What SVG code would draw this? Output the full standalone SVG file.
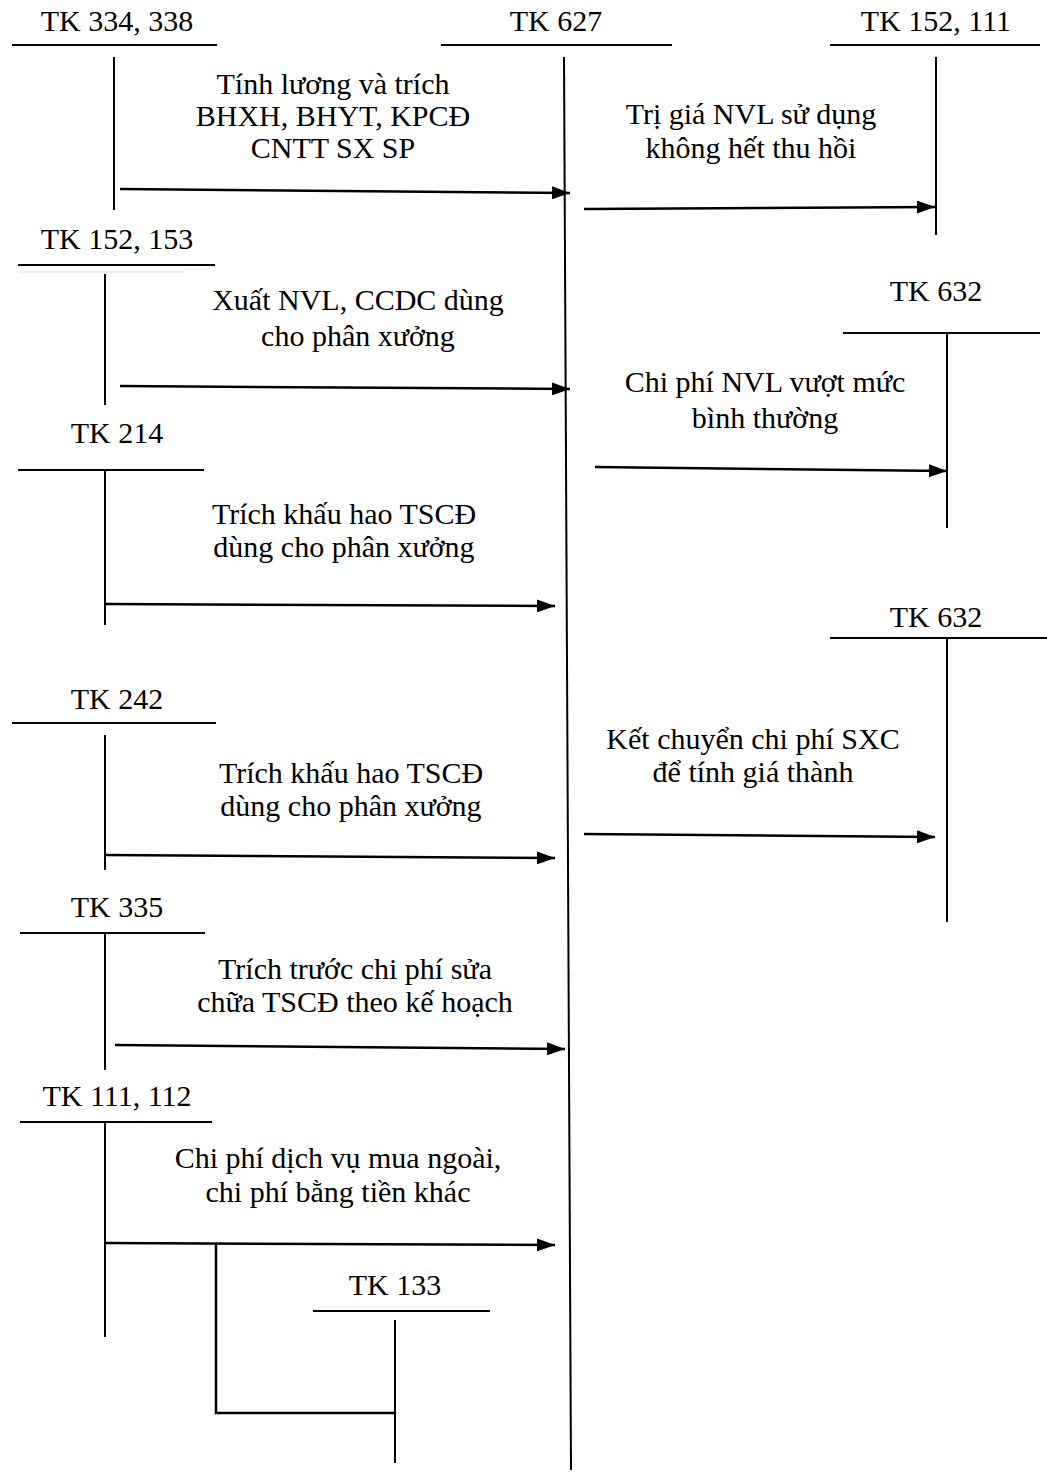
<svg xmlns="http://www.w3.org/2000/svg" width="1047" height="1473" viewBox="0 0 1047 1473">
<style>
text{font-family:"Liberation Serif","Times New Roman",serif;font-size:30px;fill:#000;text-anchor:middle}
line{stroke:#000;stroke-width:2}
.c{stroke:#000;stroke-width:2.5;fill:none}
</style>
<defs>
<marker id="a" viewBox="0 0 18 13" refX="18" refY="6.5" markerWidth="18" markerHeight="13" markerUnits="userSpaceOnUse" orient="auto"><path d="M0,0 L18,6.5 L0,13 Z" fill="#000"/></marker>
</defs>
<rect width="1047" height="1473" fill="#fff"/>
<g id="tk334"><text x="117" y="31">TK 334, 338</text><line x1="12" y1="45" x2="217" y2="45"/><line x1="114" y1="57" x2="114" y2="210"/></g>
<g id="tk627"><text x="556" y="31">TK 627</text><line x1="441" y1="45" x2="672" y2="45"/><line x1="564" y1="57" x2="571" y2="1470"/></g>
<g id="tk152_111"><text x="936" y="31">TK 152, 111</text><line x1="830" y1="45" x2="1040" y2="45"/><line x1="936" y1="57" x2="936" y2="235"/></g>
<g id="tk152_153"><text x="117" y="249">TK 152, 153</text><line x1="18" y1="265" x2="215" y2="265"/><line x1="18" y1="272" x2="185" y2="272" style="stroke:#ddd;stroke-width:1"/><line x1="105" y1="274" x2="105" y2="405"/></g>
<g id="tk632a"><text x="936" y="301">TK 632</text><line x1="843" y1="333" x2="1040" y2="333"/><line x1="947" y1="333" x2="947" y2="528"/></g>
<g id="tk214"><text x="117" y="443">TK 214</text><line x1="18" y1="470" x2="204" y2="470"/><line x1="105" y1="470" x2="105" y2="625"/></g>
<g id="tk632b"><text x="936" y="627">TK 632</text><line x1="830" y1="638" x2="1047" y2="638"/><line x1="947" y1="638" x2="947" y2="922"/></g>
<g id="tk242"><text x="117" y="709">TK 242</text><line x1="12" y1="723" x2="216" y2="723"/><line x1="105" y1="735" x2="105" y2="870"/></g>
<g id="tk335"><text x="117" y="917">TK 335</text><line x1="20" y1="933" x2="205" y2="933"/><line x1="105" y1="933" x2="105" y2="1070"/></g>
<g id="tk111_112"><text x="117" y="1106">TK 111, 112</text><line x1="20" y1="1122" x2="212" y2="1122"/><line x1="105" y1="1122" x2="105" y2="1337"/></g>
<g id="tk133"><text x="395" y="1295">TK 133</text><line x1="313" y1="1311" x2="490" y2="1311"/><line x1="395" y1="1320" x2="395" y2="1463"/></g>
<g id="labels">
<text x="333" y="94">Tính lương và trích</text>
<text x="333" y="126">BHXH, BHYT, KPCĐ</text>
<text x="333" y="158">CNTT SX SP</text>
<text x="751" y="124">Trị giá NVL sử dụng</text>
<text x="751" y="158">không hết thu hồi</text>
<text x="358" y="310">Xuất NVL, CCDC dùng</text>
<text x="358" y="346">cho phân xưởng</text>
<text x="765" y="392">Chi phí NVL vượt mức</text>
<text x="765" y="428">bình thường</text>
<text x="344" y="524">Trích khấu hao TSCĐ</text>
<text x="344" y="557">dùng cho phân xưởng</text>
<text x="753" y="749">Kết chuyển chi phí SXC</text>
<text x="753" y="782">để tính giá thành</text>
<text x="351" y="783">Trích khấu hao TSCĐ</text>
<text x="351" y="816">dùng cho phân xưởng</text>
<text x="355" y="979">Trích trước chi phí sửa</text>
<text x="355" y="1012">chữa TSCĐ theo kế hoạch</text>
<text x="338" y="1168">Chi phí dịch vụ mua ngoài,</text>
<text x="338" y="1202">chi phí bằng tiền khác</text>
</g>
<g id="connectors">
<path class="c" d="M120,189 L570,193" marker-end="url(#a)"/>
<path class="c" d="M584,209 L935,207" marker-end="url(#a)"/>
<path class="c" d="M120,386 L570,389" marker-end="url(#a)"/>
<path class="c" d="M595,467 L947,471" marker-end="url(#a)"/>
<path class="c" d="M105,604 L555,606" marker-end="url(#a)"/>
<path class="c" d="M105,855 L555,858" marker-end="url(#a)"/>
<path class="c" d="M584,834 L935,837" marker-end="url(#a)"/>
<path class="c" d="M115,1045 L565,1049" marker-end="url(#a)"/>
<path class="c" d="M105,1243 L555,1245" marker-end="url(#a)"/>
<path class="c" d="M216,1244 L216,1413 L395,1413"/>
</g>
</svg>
